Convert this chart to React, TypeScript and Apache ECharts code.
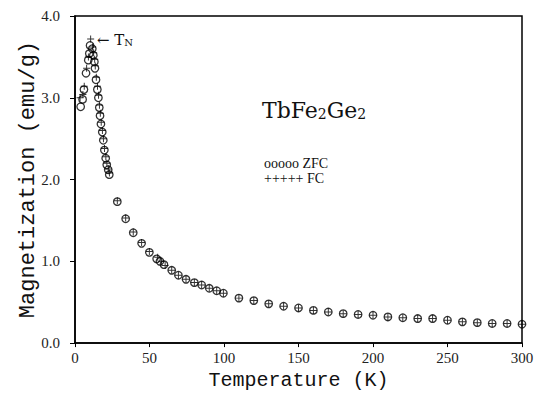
import React, { useEffect, useRef } from "react";
import * as echarts from "echarts";

// Tick labels
const xTicks = [0, 50, 100, 150, 200, 250, 300];
const yTicks = ["0.0", "1.0", "2.0", "3.0", "4.0"];

// ZFC data (Temperature K, Magnetization emu/g)
const zfcT = [3.8, 5.1, 6.0, 7.4, 8.9, 9.6, 10.1, 11.6, 12.3, 13.0, 13.4, 14.1, 15.0, 15.7, 16.3, 16.8, 17.4,
  18.3, 19.0, 19.7, 20.6, 21.3, 22.3, 23.0, 28.4, 34.0, 39.1, 44.7, 49.9, 54.8, 57.0, 59.7, 64.9, 69.4,
  74.5, 80.1, 85.0, 90.1, 95.1, 99.6, 110, 120, 130, 140, 150, 160, 170, 180, 190, 200,
  210, 220, 230, 240, 250, 260, 270, 280, 290, 300];
const zfcM = [2.89, 2.98, 3.10, 3.30, 3.46, 3.54, 3.64, 3.60, 3.52, 3.44, 3.36, 3.22, 3.10, 3.00, 2.88, 2.78, 2.68,
  2.58, 2.48, 2.36, 2.26, 2.18, 2.12, 2.06, 1.73, 1.52, 1.35, 1.22, 1.11, 1.03, 1.00, 0.96, 0.89, 0.83,
  0.78, 0.74, 0.71, 0.67, 0.64, 0.61, 0.55, 0.52, 0.48, 0.45, 0.43, 0.40, 0.38, 0.36, 0.35, 0.34,
  0.32, 0.31, 0.30, 0.30, 0.28, 0.26, 0.25, 0.24, 0.24, 0.23];

// FC data
const fcT = [3.4, 5.3, 6.2, 7.8, 9.0, 10.5, 11.8, 12.5, 13.2, 13.6, 14.3, 15.1, 15.8, 16.4, 17.0, 17.6,
  18.4, 19.1, 19.8, 20.7, 21.4, 22.4, 23.1, 28.4, 34.0, 39.1, 44.7, 49.9, 55.5, 58.0, 60.5, 64.9, 69.4,
  74.5, 80.1, 85.0, 90.1, 95.1, 99.6, 110, 120, 130, 140, 150, 160, 170, 180, 190, 200,
  210, 220, 230, 240, 250, 260, 270, 280, 290, 300];
const fcM = [3.00, 3.04, 3.14, 3.36, 3.50, 3.72, 3.62, 3.55, 3.47, 3.39, 3.25, 3.14, 3.03, 2.91, 2.81, 2.70,
  2.60, 2.50, 2.38, 2.28, 2.20, 2.13, 2.08, 1.74, 1.53, 1.36, 1.23, 1.12, 1.05, 1.00, 0.95, 0.89, 0.83,
  0.78, 0.74, 0.71, 0.67, 0.64, 0.61, 0.55, 0.52, 0.48, 0.45, 0.43, 0.40, 0.38, 0.36, 0.35, 0.34,
  0.32, 0.31, 0.30, 0.30, 0.28, 0.26, 0.25, 0.24, 0.24, 0.23];

const PLUS = "path://M4.3,0H5.7V4.3H10V5.7H5.7V10H4.3V5.7H0V4.3H4.3Z";
const SERIF = "'Liberation Serif', 'DejaVu Serif', serif";
const MONO = "'Liberation Mono', 'DejaVu Sans Mono', monospace";

export default function App() {
  const ref = useRef<HTMLDivElement>(null);
  useEffect(() => {
    if (!ref.current) return;
    const chart = echarts.init(ref.current, null, { renderer: "svg" });
    const zfc = zfcT.map((t, i) => [t, zfcM[i]]);
    const fc = fcT.map((t, i) => [t, fcM[i]]);
    chart.setOption({
      animation: false,
      backgroundColor: "#fff",
      grid: {
        left: 75, right: 15, top: 16, bottom: 45,
        show: true, borderColor: "#000", borderWidth: 1.5, backgroundColor: "transparent",
      },
      xAxis: {
        type: "value", min: 0, max: 300, interval: 50,
        name: "Temperature (K)", nameLocation: "middle", nameGap: 18,
        nameTextStyle: { fontFamily: MONO, fontSize: 20, color: "#111" },
        axisLine: { show: true, lineStyle: { color: "#000", width: 1.5 } },
        axisTick: { show: true, inside: false, length: 4, lineStyle: { color: "#000" } },
        splitLine: { show: false },
        axisLabel: {
          margin: 7, fontFamily: SERIF, fontSize: 15, color: "#222",
          formatter: (v: number) => (xTicks.includes(v) ? String(v) : ""),
        },
      },
      yAxis: {
        type: "value", min: 0, max: 4, interval: 1,
        name: "Magnetization (emu/g)", nameLocation: "middle", nameGap: 36,
        nameMoveOverlap: false,
        nameTextStyle: { fontFamily: MONO, fontSize: 22, color: "#111" },
        axisLine: { show: true, lineStyle: { color: "#000", width: 1.5 } },
        axisTick: { show: true, inside: false, length: 5, lineStyle: { color: "#000" } },
        splitLine: { show: false },
        axisLabel: {
          margin: 15, fontFamily: SERIF, fontSize: 15, color: "#222",
          formatter: (v: number) => yTicks[Math.round(v)] ?? "",
        },
      },
      series: [
        {
          name: "ZFC", type: "scatter", data: zfc, symbol: "circle", symbolSize: 7.5,
          itemStyle: { color: "transparent", borderColor: "#000", borderWidth: 1.3 },
          z: 2,
        },
        {
          name: "FC", type: "scatter", data: fc, symbol: PLUS, symbolSize: 7,
          itemStyle: { color: "#000" },
          z: 3,
        },
      ],
      graphic: [
        {
          type: "text", left: 262, top: 99,
          style: {
            text: "{a|TbFe}{s|2}{a|Ge}{s|2}",
            rich: {
              a: { fontFamily: "'DejaVu Serif', serif", fontSize: 22, lineHeight: 24, verticalAlign: "bottom", fill: "#111" },
              s: { fontFamily: "'DejaVu Serif', serif", fontSize: 14, lineHeight: 12, verticalAlign: "bottom", fill: "#111" },
            },
          },
        },
        {
          type: "text", left: 264, top: 156,
          style: { text: "ooooo ZFC", fontFamily: SERIF, fontSize: 14, lineHeight: 14, fill: "#111" },
        },
        {
          type: "text", left: 264, top: 171,
          style: { text: "+++++ FC", fontFamily: SERIF, fontSize: 14, lineHeight: 14, fill: "#111" },
        },
        {
          type: "text", left: 97, top: 32,
          style: {
            text: "{a|\u2190 T}{s|N}",
            rich: {
              a: { fontFamily: "'DejaVu Serif', serif", fontSize: 15, lineHeight: 18, verticalAlign: "bottom", fill: "#111" },
              s: { fontFamily: "'DejaVu Serif', serif", fontSize: 10, lineHeight: 9, verticalAlign: "bottom", fill: "#111" },
            },
          },
        },
      ],
    });
    return () => chart.dispose();
  }, []);
  return (
    <div
      ref={ref}
      style={{ position: "fixed", left: 0, top: 0, width: 537, height: 395, background: "#fff" }}
    />
  );
}
